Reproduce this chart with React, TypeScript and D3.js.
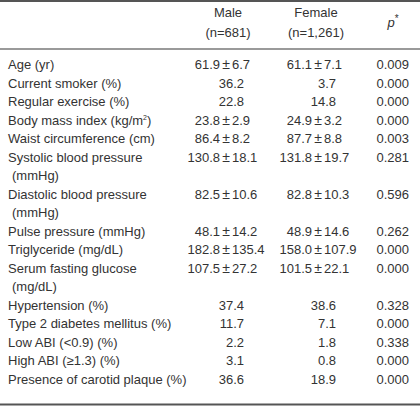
import React from "react";
import * as d3 from "d3";

const variables: string[][] = [
  ["Age (yr)"],
  ["Current smoker (%)"],
  ["Regular exercise (%)"],
  ["Body mass index (kg/m²)"],
  ["Waist circumference (cm)"],
  ["Systolic blood pressure", "(mmHg)"],
  ["Diastolic blood pressure", "(mmHg)"],
  ["Pulse pressure (mmHg)"],
  ["Triglyceride (mg/dL)"],
  ["Serum fasting glucose", "(mg/dL)"],
  ["Hypertension (%)"],
  ["Type 2 diabetes mellitus (%)"],
  ["Low ABI (<0.9) (%)"],
  ["High ABI (≥1.3) (%)"],
  ["Presence of carotid plaque (%)"],
];
const maleMean = ["61.9", "36.2", "22.8", "23.8", "86.4", "130.8", "82.5", "48.1", "182.8", "107.5", "37.4", "11.7", "2.2", "3.1", "36.6"];
const maleSD: (string | null)[] = ["6.7", null, null, "2.9", "8.2", "18.1", "10.6", "14.2", "135.4", "27.2", null, null, null, null, null];
const femaleMean = ["61.1", "3.7", "14.8", "24.9", "87.7", "131.8", "82.8", "48.9", "158.0", "101.5", "38.6", "7.1", "1.8", "0.8", "18.9"];
const femaleSD: (string | null)[] = ["7.1", null, null, "3.2", "8.8", "19.7", "10.3", "14.6", "107.9", "22.1", null, null, null, null, null];
const pValues = ["0.009", "0.000", "0.000", "0.000", "0.003", "0.281", "0.596", "0.262", "0.000", "0.000", "0.328", "0.000", "0.338", "0.000", "0.000"];
const groupNames = ["Male", "Female"];
const groupNs = ["(n=681)", "(n=1,261)"];

const W = 420;
const H = 406;
const FONT = "'Liberation Sans', Arial, Helvetica, sans-serif";
const TEXT = "#333";

function Label({ text, x, y }: { text: string; x: number; y: number }) {
  const i = text.indexOf("²");
  if (i < 0) return <text x={x} y={y}>{text}</text>;
  return (
    <text x={x} y={y}>
      {text.slice(0, i)}
      <tspan fontSize={7} dy={-5}>2</tspan>
      <tspan dy={5}>{text.slice(i + 1)}</tspan>
    </text>
  );
}

export default function App() {
  const lineY = d3.scaleLinear().domain([0, 1]).range([69, 87.5]);
  const colX = d3.scaleOrdinal<string, number>().domain(groupNames).range([226, 318]);
  const pctRight = d3.scaleOrdinal<string, number>().domain(groupNames).range([244, 336]);
  const pRight = 409;
  const pCenter = 393;

  let line = 0;
  const rows = variables.map((lbl, i) => {
    const start = line;
    line += lbl.length;
    return { lbl, i, start };
  });

  const valueCell = (g: string, mean: string, sd: string | null, y: number) => {
    const cx = colX(g);
    if (sd === null) {
      return <text x={pctRight(g)} y={y} textAnchor="end">{mean}</text>;
    }
    return (
      <g>
        <text x={cx - 6} y={y} textAnchor="end">{mean}</text>
        <text x={cx} y={y} textAnchor="middle" fontSize={14}>±</text>
        <text x={cx + 6} y={y} textAnchor="start">{sd}</text>
      </g>
    );
  };

  return (
    <svg width={W} height={H} style={{ position: "absolute", left: 0, top: 0, background: "#fff" }}
      fontFamily={FONT} fontSize={13} fill={TEXT}>
      <line x1={0} x2={W} y1={1} y2={1} stroke="#555" strokeWidth={2} />
      <line x1={0} x2={W} y1={49} y2={49} stroke="#9a9a9a" strokeWidth={2} />
      <line x1={0} x2={W} y1={404.5} y2={404.5} stroke="#555" strokeWidth={2} />

      {groupNames.map((g, k) => (
        <g key={g}>
          <text x={colX(g) + 2 - k * 4} y={17} textAnchor="middle">{g}</text>
          <text x={colX(g) + 2 - k * 4} y={37} textAnchor="middle">{groupNs[k]}</text>
        </g>
      ))}
      <text x={pCenter} y={27} textAnchor="middle">
        <tspan fontStyle="italic">p</tspan>
        <tspan fontSize={10} dy={-5}>*</tspan>
      </text>

      {rows.map(({ lbl, i, start }) => {
        const y = lineY(start);
        return (
          <g key={i}>
            {lbl.map((t, j) => (
              <Label key={j} text={t} x={j === 0 ? 8 : 12} y={lineY(start + j)} />
            ))}
            {valueCell("Male", maleMean[i], maleSD[i], y)}
            {valueCell("Female", femaleMean[i], femaleSD[i], y)}
            <text x={pRight} y={y} textAnchor="end">{pValues[i]}</text>
          </g>
        );
      })}
    </svg>
  );
}
